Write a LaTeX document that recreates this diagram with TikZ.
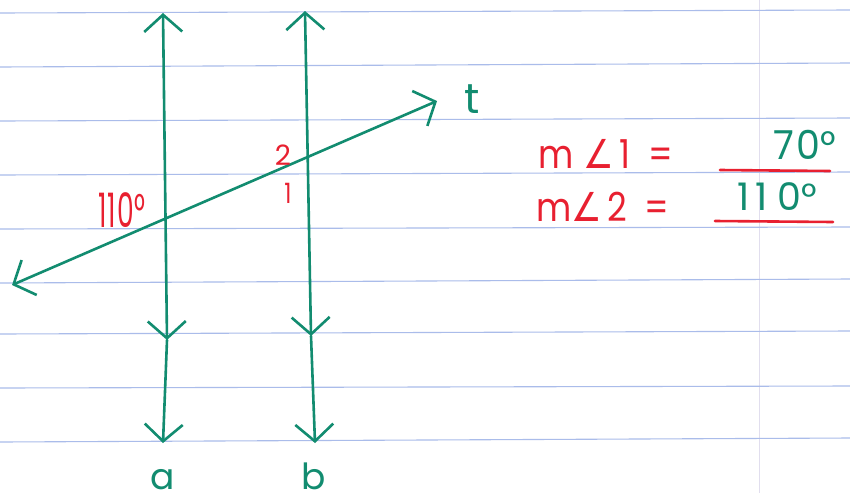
\documentclass[tikz,border=0pt]{standalone}
\usepackage{fontspec}
\setmainfont{Poppins}
\newfontfamily\symfont{DejaVu Sans}
\usetikzlibrary{arrows.meta}
\definecolor{pen}{RGB}{18,140,112}
\definecolor{redpen}{RGB}{232,32,48}
\definecolor{rulecol}{RGB}{170,188,234}
\definecolor{margincol}{RGB}{225,222,238}
\begin{document}
\begin{tikzpicture}[x=1pt,y=-1pt,
  penline/.style={draw=pen, line width=2.6pt, line cap=round, line join=round},
  >={Straight Barb[length=17pt,width=38pt]},
  ruled/.style={draw=rulecol, line width=1.1pt},
  redtxt/.style={text=redpen, inner sep=0pt, font=\fontsize{38}{40}\selectfont},
  greentxt/.style={text=pen, inner sep=0pt, font=\fontsize{38}{40}\selectfont},
  underl/.style={draw=redpen, line width=2.6pt, line cap=round}]
\useasboundingbox (0,0) rectangle (850,493);
\fill[white] (0,0) rectangle (850,493);
% notebook paper
\draw[margincol, line width=0.8pt] (759,0) -- (759,493);
\foreach \yl/\yr in {13/10, 67/63, 121/118, 175/172, 229/227, 283/279, 334/331, 388/386, 442/438}
  \draw[ruled] (0,\yl) -- (850,\yr);
% points
\coordinate (aTop) at (163,13);
\coordinate (aMid) at (167,340);
\coordinate (aBot) at (163,443);
\coordinate (bTop) at (305,11);
\coordinate (bMid) at (311,336);
\coordinate (bBot) at (315,443);
\coordinate (tL) at (12,285);
\coordinate (tR) at (437,101);
% lines a and b
\draw[penline,<->] (aTop) -- (aMid);
\draw[penline,->] (aMid) -- (aBot);
\draw[penline,<->] (bTop) -- (bMid);
\draw[penline,->] (bMid) -- (bBot);
% transversal t
\draw[penline,<->] (tL) -- (tR);
% labels
\node[greentxt, font=\fontsize{42}{44}\selectfont] (tlab) at (472,99) {t};
\node[greentxt, font=\fontsize{36}{38}\selectfont, text depth=0pt, anchor=south] (alab) at (163,490) {a};
\node[greentxt, font=\fontsize{36}{38}\selectfont, text depth=0pt, anchor=south] (blab) at (314,490) {b};
\node[redtxt] (ang110) at (122,210) {\scalebox{0.7}[1.25]{1\hspace{1pt}1\hspace{2pt}0°}};
\node[redtxt, font=\fontsize{28}{30}\selectfont] (ang2) at (283,155) {2};
\node[redtxt, font=\fontsize{28}{30}\selectfont] (ang1) at (288,193) {\scalebox{0.8}[1]{1}};
% equations
\node[redtxt] (eq1) at (606,154) {\scalebox{0.9}[1.05]{m\hspace{11pt}{\symfont ∠}\hspace{6pt}1\hspace{20pt}=}};
\node[greentxt] (val1) at (805,145) {\scalebox{1}[1.05]{7\hspace{2pt}0°}};
\draw[underl] (720,170) -- (830,171);
\node[redtxt] (eq2) at (603,207) {\scalebox{0.9}[1.05]{m{\symfont ∠}\hspace{5pt}2\hspace{20pt}=}};
\node[greentxt] (val2) at (777,197) {1\hspace{6pt}1\hspace{10pt}0°};
\draw[underl] (715,221) -- (833,222);
\end{tikzpicture}
\end{document}
